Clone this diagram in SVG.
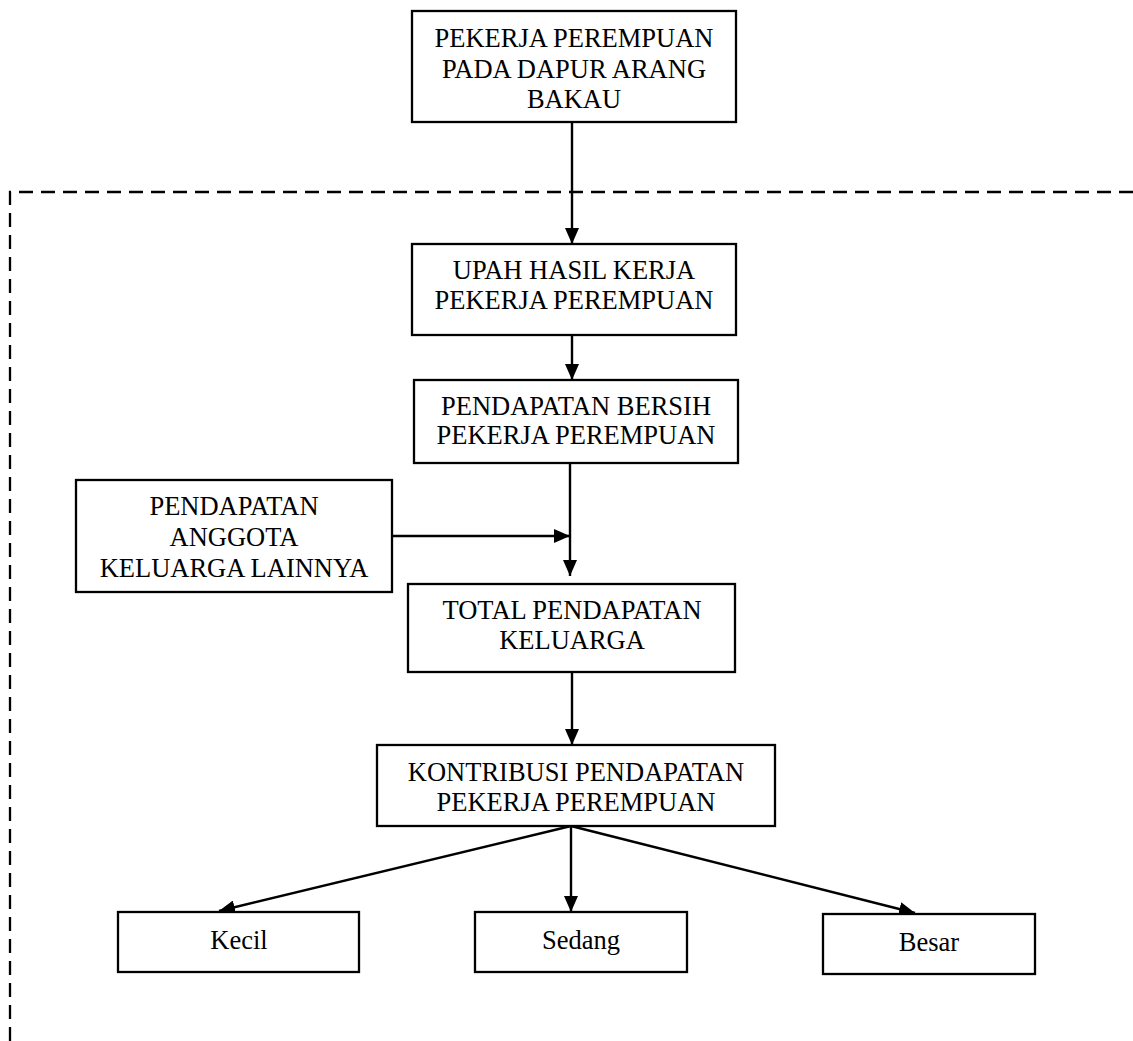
<svg xmlns="http://www.w3.org/2000/svg" width="1133" height="1041" viewBox="0 0 1133 1041">
<style>
.box{fill:#fff;stroke:#000;stroke-width:2.3}
.t{font-family:"Liberation Serif","Times New Roman",serif;font-size:26.5px;fill:#000;text-anchor:middle}
.c{stroke:#000;stroke-width:2.4;fill:none}
.d{stroke:#000;stroke-width:2.3;fill:none;stroke-dasharray:14 8}
</style>
<defs>
<marker id="ah" viewBox="0 0 16 14" refX="16" refY="7" markerWidth="16" markerHeight="14" markerUnits="userSpaceOnUse" orient="auto">
<path d="M0,0 L16,7 L0,14 Z" fill="#000"/>
</marker>
</defs>
<g id="boundary">
<path class="d" d="M10,1041 V192 H1133"/>
</g>
<g id="connectors">
<line class="c" x1="572" y1="122" x2="572" y2="244" marker-end="url(#ah)"/>
<line class="c" x1="572" y1="335" x2="572" y2="380" marker-end="url(#ah)"/>
<line class="c" x1="570" y1="463" x2="570" y2="576" marker-end="url(#ah)"/>
<line class="c" x1="392" y1="536" x2="570" y2="536" marker-end="url(#ah)"/>
<line class="c" x1="572" y1="672" x2="572" y2="745" marker-end="url(#ah)"/>
<line class="c" x1="571" y1="826" x2="219" y2="911" marker-end="url(#ah)"/>
<line class="c" x1="571" y1="826" x2="571" y2="912" marker-end="url(#ah)"/>
<line class="c" x1="571" y1="826" x2="915" y2="913" marker-end="url(#ah)"/>
</g>
<g id="n1"><rect class="box" x="412" y="11" width="324" height="111"/>
<text class="t" x="574" y="47">PEKERJA PEREMPUAN</text>
<text class="t" x="574" y="78">PADA DAPUR ARANG</text>
<text class="t" x="574" y="108">BAKAU</text></g>
<g id="n2"><rect class="box" x="412" y="244" width="324" height="91"/>
<text class="t" x="574" y="279">UPAH HASIL KERJA</text>
<text class="t" x="574" y="309">PEKERJA PEREMPUAN</text></g>
<g id="n3"><rect class="box" x="414" y="380" width="324" height="83"/>
<text class="t" x="576" y="415">PENDAPATAN BERSIH</text>
<text class="t" x="576" y="444">PEKERJA PEREMPUAN</text></g>
<g id="n4"><rect class="box" x="76" y="480" width="316" height="112"/>
<text class="t" x="234" y="515">PENDAPATAN</text>
<text class="t" x="234" y="546">ANGGOTA</text>
<text class="t" x="234" y="577">KELUARGA LAINNYA</text></g>
<g id="n5"><rect class="box" x="408" y="584" width="327" height="88"/>
<text class="t" x="572" y="619">TOTAL PENDAPATAN</text>
<text class="t" x="572" y="649">KELUARGA</text></g>
<g id="n6"><rect class="box" x="377" y="745" width="398" height="81"/>
<text class="t" x="576" y="781">KONTRIBUSI PENDAPATAN</text>
<text class="t" x="576" y="811">PEKERJA PEREMPUAN</text></g>
<g id="n7"><rect class="box" x="118" y="912" width="241" height="60"/>
<text class="t" x="239" y="949">Kecil</text></g>
<g id="n8"><rect class="box" x="475" y="912" width="212" height="60"/>
<text class="t" x="581" y="949">Sedang</text></g>
<g id="n9"><rect class="box" x="823" y="914" width="212" height="60"/>
<text class="t" x="929" y="951">Besar</text></g>
</svg>
